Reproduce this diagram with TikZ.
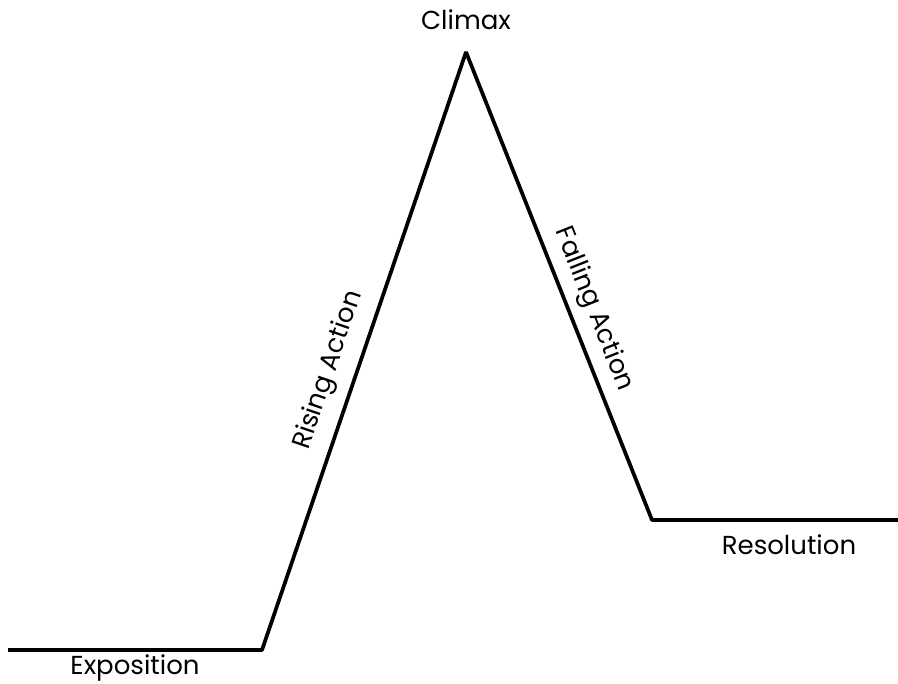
\documentclass[tikz,border=0pt]{standalone}
\usepackage{fontspec}
\setmainfont{Poppins}
\usetikzlibrary{positioning}

\tikzset{
  plotline/.style={line width=2.8pt, line join=bevel, line cap=butt},
  stagelabel/.style={inner sep=0.75pt, font=\fontsize{19.5}{23}\selectfont}
}

\begin{document}
\begin{tikzpicture}[x=0.75pt,y=0.75pt,yscale=-1,xscale=1]
\useasboundingbox (0,0) rectangle (898,683);

% Plot points
\coordinate (start) at (8,650);
\coordinate (rise) at (262,650);
\coordinate (peak) at (466,52);
\coordinate (fall) at (652,520);
\coordinate (end) at (898,520);

%Straight Lines
\draw [plotline] (start) -- (rise) -- (peak) -- (fall) -- (end);

% Text Node
\node [stagelabel, above=15.5pt of peak] (climax) {Climax};
% Text Node
\path (rise) -- (peak) node [stagelabel, pos=0.453, rotate=71.2, anchor=south, inner sep=10pt] (rising) {Rising Action};
% Text Node
\path (peak) -- (fall) node [stagelabel, pos=0.568, rotate=-68.4, anchor=south, inner sep=7.3pt] (falling) {Falling Action};
% Text Node
\node [stagelabel, anchor=center] (resolution) at (789,545) {Resolution};
% Text Node
\node [stagelabel, anchor=center] (exposition) at (135,668) {Exposition};

\end{tikzpicture}
\end{document}
